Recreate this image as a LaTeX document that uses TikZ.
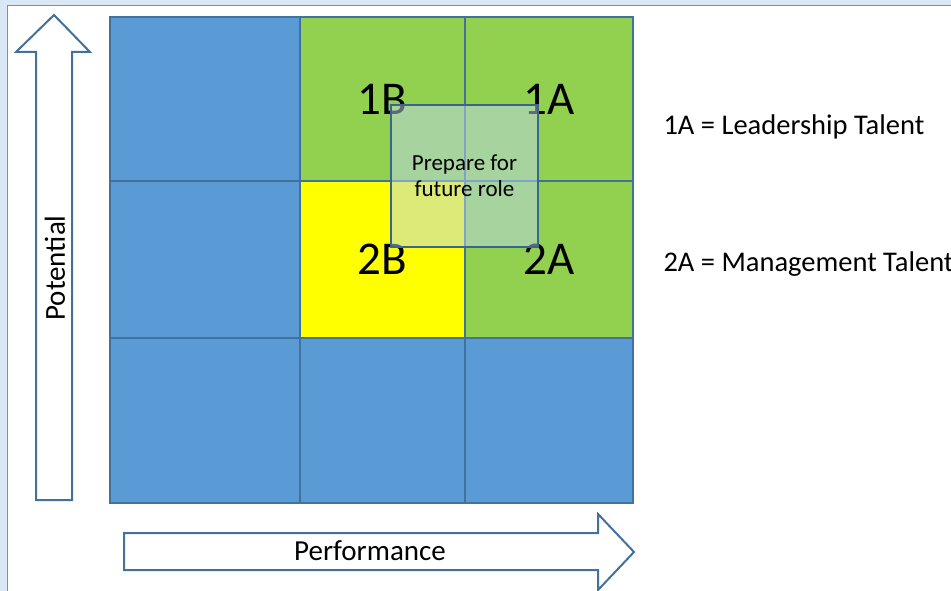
\documentclass[tikz,border=0pt]{standalone}
\usepackage{fontspec}
\setmainfont{Carlito}
\usetikzlibrary{positioning}
\definecolor{paneblue}{HTML}{DAE7F4}
\definecolor{paneline}{HTML}{8C8C8C}
\definecolor{cellblue}{HTML}{5B9BD5}
\definecolor{cellgreen}{HTML}{92D050}
\definecolor{cellyellow}{HTML}{FFFF00}
\definecolor{cellline}{HTML}{41719C}
\definecolor{prepfill}{HTML}{BDD7EE}
\tikzset{
    cell/.style = {
        draw = cellline,
        line width = 2pt,
        inner sep = 0pt,
        anchor = north west,
        },
    box label/.style = {
        font = \fontsize{47}{52}\selectfont,
        },
    axis arrow/.style = {
        draw = cellline,
        line width = 2pt,
        fill = white,
        line join = miter,
        },
    axis label/.style = {
        font = \fontsize{29}{34}\selectfont,
        },
    legend/.style = {
        font = \fontsize{28.5}{34}\selectfont,
        anchor = west,
        },
    prep/.style = {
        draw = cellline!90!black,
        line width = 2pt,
        fill = prepfill,
        fill opacity = 0.5,
        text opacity = 1,
        align = center,
        font = \fontsize{23}{26}\selectfont,
        minimum width = 147pt,
        minimum height = 142pt,
        },
}
\begin{document}
\begin{tikzpicture}[x=1pt, y=-1pt]
            \useasboundingbox (0,0) rectangle (951,591);
            \clip (0,0) rectangle (951,591);
            % slide pane
            \fill[paneblue] (0,0) rectangle (951,591);
            \draw[paneline, fill=white] (7,5) rectangle (960,600);

            % the nine boxes
            \node[cell, fill=cellblue, minimum width=190pt, minimum height=164pt] (c11) at (109,16) {};
            \node[cell, fill=cellgreen, minimum width=165pt, minimum height=164pt] (c12) at (299,16) {};
            \node[cell, fill=cellgreen, minimum width=168pt, minimum height=164pt] (c13) at (464,16) {};
            \node[cell, fill=cellblue, minimum width=190pt, minimum height=157pt] (c21) at (109,180) {};
            \node[cell, fill=cellyellow, minimum width=165pt, minimum height=157pt] (c22) at (299,180) {};
            \node[cell, fill=cellgreen, minimum width=168pt, minimum height=157pt] (c23) at (464,180) {};
            \node[cell, fill=cellblue, minimum width=190pt, minimum height=165pt] (c31) at (109,337) {};
            \node[cell, fill=cellblue, minimum width=165pt, minimum height=165pt] (c32) at (299,337) {};
            \node[cell, fill=cellblue, minimum width=168pt, minimum height=165pt] (c33) at (464,337) {};

            \node[box label] (l1b) at (c12.center) {1B};
            \node[box label] (l1a) at (c13.center) {1A};
            \node[box label] (l2b) at (c22.center) {2B};
            \node[box label] (l2a) at (c23.center) {2A};

            \node[prep] (future) at (464.5,176) {Prepare for\\future role};

            % axes
            \draw[axis arrow] (36,500) -- (36,52) -- (16,52) -- (54,15) -- (90,52) -- (72,52) -- (72,500) -- cycle;
            \node[axis label, rotate=90] (potential) at (55,268) {Potential};
            \draw[axis arrow] (124,533) -- (598,533) -- (598,514) -- (634,552) -- (598,590) -- (598,570) -- (124,570) -- cycle;
            \node[axis label] (performance) at (370,551) {Performance};

            \node[legend] (lead) at (660,127) {1A = Leadership Talent};
            \node[legend] (mgmt) at (660,264) {2A = Management Talent};
        \end{tikzpicture}
\end{document}
